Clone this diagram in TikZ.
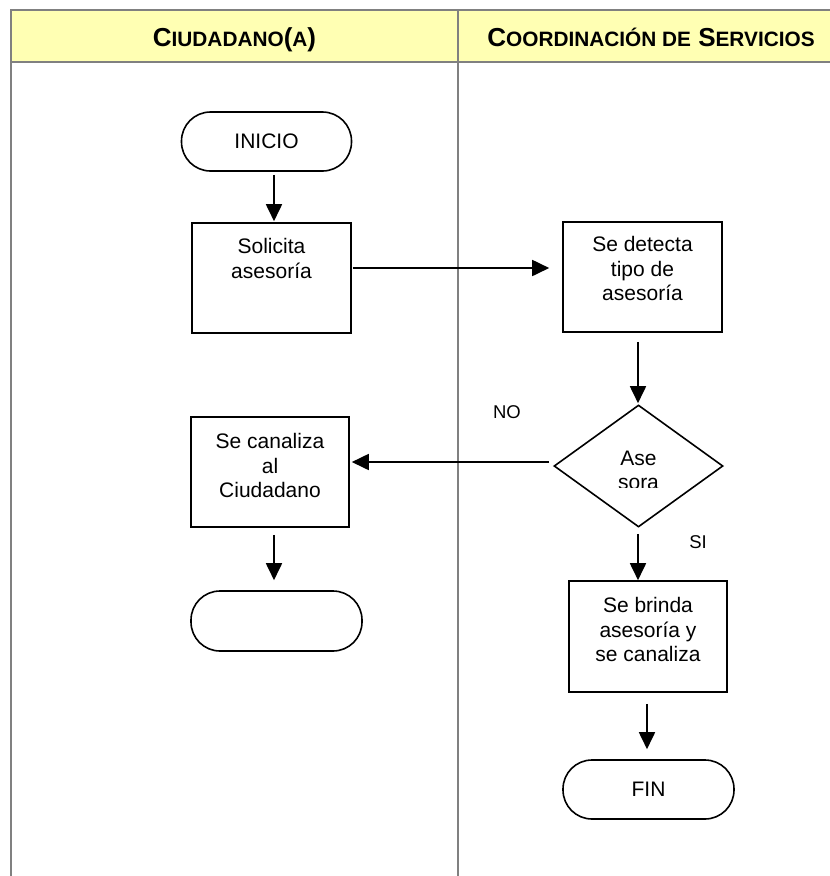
\documentclass[tikz,border=0pt]{standalone}
\usepackage{fontspec}
\setmainfont{Liberation Sans}
\usetikzlibrary{arrows.meta,shapes.geometric}
\definecolor{hdrfill}{HTML}{FFFFB3}
\definecolor{gridgray}{HTML}{808080}
\newcommand\smc[1]{{\fontsize{20.8}{24}\selectfont #1}}
\begin{document}
\begin{tikzpicture}[x=1pt,y=-1pt,
  gridline/.style={draw=gridgray, line width=2pt},
  procbox/.style={draw, line width=1.6pt, inner sep=0pt, minimum width=159pt, minimum height=110pt},
  termbox/.style={draw, line width=1.6pt, inner sep=0pt, minimum width=170pt, minimum height=59pt, rounded corners=29pt, font=\fontsize{21}{24.5}\selectfont},
  decbox/.style={draw, diamond, line width=1.6pt, inner sep=0pt, minimum width=169pt, minimum height=122pt},
  boxtext/.style={anchor=north, align=center, inner sep=0pt, font=\fontsize{21}{24.5}\selectfont},
  lbl/.style={inner sep=0pt, font=\fontsize{18.5}{22}\selectfont},
  hdrtext/.style={anchor=base, inner sep=0pt, font=\fontsize{26}{30}\selectfont\bfseries},
  arr/.style={line width=1.8pt, -{Triangle[length=17pt,width=16pt]}}]
\useasboundingbox (0,0) rectangle (830,876);
% table
\fill[hdrfill] (11,10) rectangle (830,62);
\draw[gridline] (830,10) -- (11,10) -- (11,876);
\draw[gridline] (11,62) -- (830,62);
\draw[gridline] (458,10) -- (458,876);
\node[hdrtext] (h1) at (234.5,46) {C\smc{IUDADANO}(\smc{A})};
\node[hdrtext] (h2) at (651,46) {C\smc{OORDINACIÓN DE} S\smc{ERVICIOS}};
% shapes
\node[termbox] (ini) at (266.5,141.5) {INICIO};
\node[procbox] (sol) at (271.5,278) {};
\node[boxtext] (solT) at (271.5,238.5) {Solicita\\asesoría};
\node[procbox] (det) at (642.5,277) {};
\node[boxtext] (detT) at (642.5,236.5) {Se detecta\\tipo de\\asesoría};
\node[decbox] (dia) at (638.5,466) {};
\begin{scope}
  \clip (560,440) rectangle (720,487.5);
  \node[boxtext] (diaT) at (638.5,450.5) {Ase\\sora};
\end{scope}
\node[procbox, minimum width=158pt] (can) at (270,472) {};
\node[boxtext] (canT) at (270,433.5) {Se canaliza\\al\\Ciudadano};
\node[termbox, minimum width=171pt, minimum height=60pt] (emp) at (276.5,621) {};
\node[procbox, minimum width=158pt, minimum height=111pt] (bri) at (648,636.5) {};
\node[boxtext] (briT) at (648,597.5) {Se brinda\\asesoría y\\se canaliza};
\node[termbox, minimum width=171pt] (fin) at (648.5,789.5) {FIN};
% labels
\node[lbl] (no) at (507,412) {NO};
\node[lbl] (si) at (698,542) {SI};
% connectors
\draw[arr] ([shift={(7.5,3)}]ini.south) -- ([shift={(2.5,-1)}]sol.north);
\draw[arr] ([shift={(1,-10)}]sol.east) -- ([shift={(-13,-9)}]det.west);
\draw[arr] ([shift={(-4.5,9)}]det.south) -- ([shift={(-0.5,-1)}]dia.north);
\draw[arr] ([shift={(-4,-4)}]dia.west) -- ([shift={(2,-10)}]can.east);
\draw[arr] ([shift={(4,7)}]can.south) -- ([shift={(-2.5,-10)}]emp.north);
\draw[arr] ([shift={(-0.5,6)}]dia.south) -- ([shift={(-10,0)}]bri.north);
\draw[arr] ([shift={(-1,11)}]bri.south) -- ([shift={(-1.5,-10)}]fin.north);
\end{tikzpicture}
\end{document}
